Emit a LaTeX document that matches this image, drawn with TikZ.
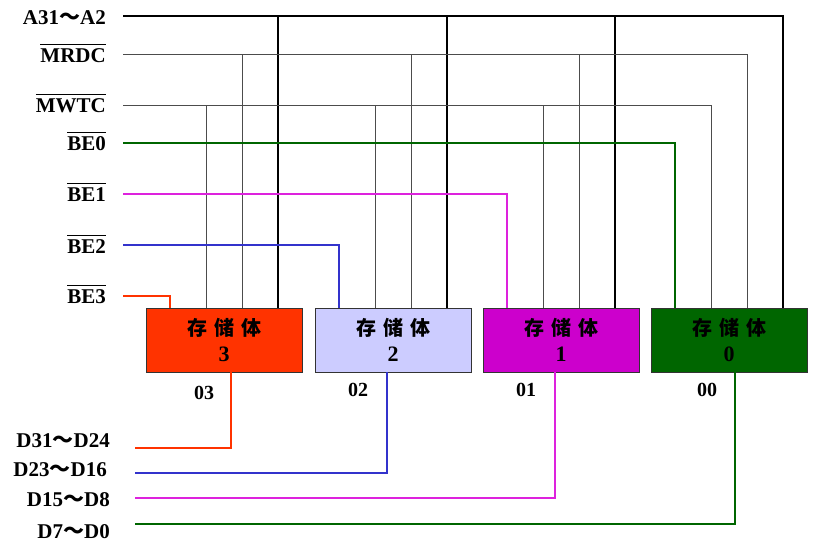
\documentclass[tikz,border=0pt]{standalone}
\usepackage{fontspec}
\setmainfont{Liberation Serif}
\newfontfamily\cjk{Noto Sans CJK SC}
\usepackage{xcolor}
\usetikzlibrary{positioning}
\definecolor{bankred}{HTML}{FF3300}
\definecolor{banklav}{HTML}{CCCCFF}
\definecolor{bankmag}{HTML}{CC00CC}
\definecolor{bankgreen}{HTML}{006600}
\definecolor{lineblue}{HTML}{3333CC}
\definecolor{linemag}{HTML}{DD22DD}
\newcommand{\wave}{{\cjk ～}}
\newcommand{\neglabel}[1]{$\overline{\mbox{\rule{0pt}{16pt}#1}}$}
\newcommand{\banktext}{{\fontsize{20}{26}\selectfont\cjk 存\hspace{7pt}储\hspace{7pt}体}}

\begin{document}
\begin{tikzpicture}[
    x=1pt, y=-1pt,
    node distance=13pt,
    bank/.style={rectangle, draw=black!80, line width=1pt, minimum width=156pt,
                minimum height=64pt, inner sep=0pt, outer sep=0pt, align=center,
                font=\fontsize{22}{26}\selectfont\bfseries},
    signal/.style={anchor=base east, inner sep=0pt,
                font=\fontsize{21}{23}\selectfont\bfseries},
    tag/.style={anchor=base, inner sep=0pt,
                font=\fontsize{20}{22}\selectfont\bfseries},
    busline/.style={black, line width=2pt},
    ctrline/.style={black!70, line width=1pt},
    selline/.style={line width=1.6pt},
]
\useasboundingbox (0,0) rectangle (831,550);

\node[bank, fill=bankred, anchor=north west] (box3) at (146,308) {\banktext\\3};
\node[bank, fill=banklav, right=of box3] (box2) {\banktext\\2};
\node[bank, fill=bankmag, right=12pt of box2] (box1) {\banktext\\1};
\node[bank, fill=bankgreen, right=12pt of box1] (box0) {\banktext\\0};

\node[signal] (laddr) at (106,24) {A31\wave A2};
\node[signal] (lrd) at (106,62) {\neglabel{MRDC}};
\node[signal] (lwr) at (106,112) {\neglabel{MWTC}};
\node[signal] (lbe0) at (106,150) {\neglabel{BE0}};
\node[signal] (lbe1) at (106,201) {\neglabel{BE1}};
\node[signal] (lbe2) at (106,253) {\neglabel{BE2}};
\node[signal] (lbe3) at (106,303) {\neglabel{BE3}};

\node[signal] (ld3) at (110,447) {D31\wave D24};
\node[signal] (ld2) at (107,476) {D23\wave D16};
\node[signal] (ld1) at (110,506) {D15\wave D8};
\node[signal] (ld0) at (110,538) {D7\wave D0};

\node[tag] (t3) at (204,399) {03};
\node[tag] (t2) at (358,396) {02};
\node[tag] (t1) at (526,396) {01};
\node[tag] (t0) at (707,396) {00};

\coordinate (addr) at (123,16);
\coordinate (rd) at (123,54);
\coordinate (wr) at (123,105);
\coordinate (be0) at (123,143);
\coordinate (be1) at (123,194);
\coordinate (be2) at (123,245);
\coordinate (be3) at (123,296);
\coordinate (d3) at (135,448);
\coordinate (d2) at (135,473);
\coordinate (d1) at (135,498);
\coordinate (d0) at (135,524);

\foreach \b in {3,2,1,0} {
    \draw[ctrline] (wr) -| ([xshift=60pt]box\b.north west);
    \draw[ctrline] (rd) -| ([xshift=96pt]box\b.north west);
    \draw[busline] (addr) -| ([xshift=132pt]box\b.north west);
}

\foreach \b/\c in {0/bankgreen, 1/linemag, 2/lineblue, 3/bankred}
    \draw[selline, \c] (be\b) -| ([xshift=24pt]box\b.north west);

\foreach \b/\c/\s in {3/bankred/85, 2/lineblue/72, 1/linemag/72, 0/bankgreen/84}
    \draw[selline, \c] (d\b) -| ([xshift=\s pt]box\b.south west);
\end{tikzpicture}
\end{document}
